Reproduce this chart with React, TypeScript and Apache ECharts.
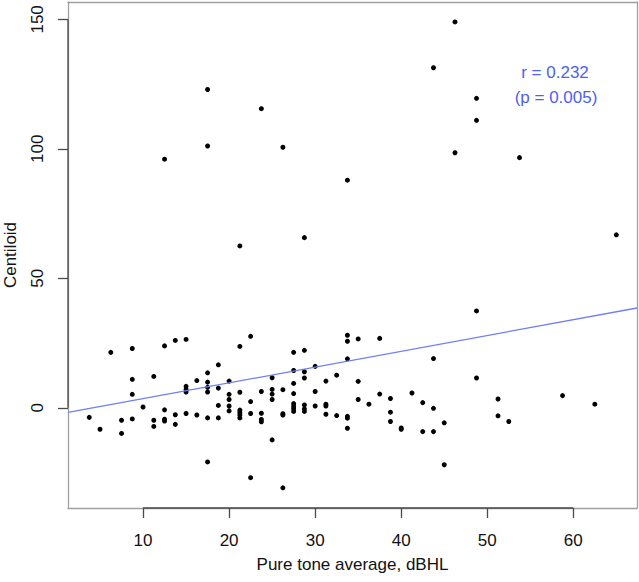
import React, { useEffect, useRef } from "react";
import * as echarts from "echarts";

// Pure tone average (dBHL) and Centiloid values
const ptaValues: number[] = [
  // upper outliers
  17.5, 23.75, 17.5, 26.25, 12.5, 33.75, 28.75, 21.25, 46.25, 43.75, 48.75, 48.75, 46.25, 53.75, 65, 48.75,
  // left cluster
  6.25, 8.75, 12.5, 13.75, 15, 21.25, 22.5, 18.75, 8.75, 11.25, 17.5, 16.25, 17.5, 20, 15, 15, 15, 17.5, 17.5,
  18.75, 21.25, 20, 8.75, 10, 18.75, 20, 20, 20, 22.5, 12.5, 13.75, 15, 16.25, 17.5, 18.75, 21.25, 21.25, 21.25,
  21.25, 22.5, 3.75, 5, 7.5, 7.5, 8.75, 11.25, 11.25, 12.5, 12.5, 13.75, 17.5, 22.5,
  // middle cluster
  27.5, 28.75, 33.75, 33.75, 35, 37.5, 43.75, 33.75, 30, 27.5, 28.75, 25, 28.75, 32.5, 31.25, 35, 27.5, 23.75,
  25, 25, 25, 26.25, 27.5, 30, 35, 37.5, 38.75, 41.25, 42.5, 43.75, 36.25, 27.5, 27.5, 27.5, 27.5, 28.75, 28.75,
  28.75, 30, 31.25, 31.25, 31.25, 32.5, 33.75, 33.75, 33.75, 23.75, 23.75, 23.75, 26.25, 26.25, 25, 26.25, 38.75,
  38.75, 40, 40, 42.5, 43.75, 45, 45,
  // right side
  48.75, 51.25, 51.25, 52.5, 58.75, 62.5,
];

const centiloidValues: number[] = [
  122.9, 115.5, 101.1, 100.6, 96.0, 87.9, 65.7, 62.5, 149.0, 131.3, 119.5, 111.0, 98.5, 96.6, 66.8, 37.4,
  21.4, 22.9, 23.9, 26.0, 26.4, 23.7, 27.6, 16.6, 11.0, 12.1, 13.5, 10.5, 9.9, 10.3, 8.3, 7.1, 6.1, 7.9, 6.1,
  7.6, 6.0, 5.2, 5.2, 0.3, 0.9, 3.2, 0.7, -1.2, 2.4, -0.8, -2.7, -2.2, -2.8, -3.9, -3.9, -0.9, -1.8, -2.8,
  -3.9, -2.2, -3.7, -8.3, -4.8, -9.9, -4.3, -4.8, -7.2, -4.4, -5.1, -6.4, -20.9, -27.0,
  21.4, 22.2, 28.0, 25.7, 26.6, 26.8, 19.0, 18.9, 16.0, 14.4, 13.9, 11.6, 11.5, 12.6, 10.3, 10.2, 9.4, 6.3,
  7.1, 5.3, 3.2, 7.0, 5.5, 6.3, 3.2, 5.3, 3.6, 5.7, 2.0, -0.2, 1.4, 1.6, 0.5, -0.4, -1.4, 1.1, -0.4,
  -1.4, 0.7, 1.4, 0.7, -2.5, -3.0, -3.3, -4.0, -7.9, -2.1, -4.5, -5.4, -2.3, -2.8, -12.4, -30.9, -1.7,
  -5.3, -7.8, -8.3, -9.2, -9.2, -5.8, -22.0,
  11.5, 3.4, -3.1, -5.3, 4.7, 1.4,
];

const xTicks: number[] = [10, 20, 30, 40, 50, 60];
const yTicks: number[] = [0, 50, 100, 150];
const xRange: number[] = [1.28, 67.4];
const yRange: number[] = [-38.7, 156.7];

const fitIntercept = -2.58;
const fitSlope = 0.61;
const annotationLines: string[] = ["r = 0.232", "(p = 0.005)"];

const FONT = "'Liberation Sans', Arial, Helvetica, sans-serif";
const BOX = "#a0a0a0";
const AXIS = "#4a4a4a";

export default function App() {
  const ref = useRef<HTMLDivElement>(null);

  useEffect(() => {
    if (!ref.current) return;
    document.body.style.margin = "0";
    const chart = echarts.init(ref.current, undefined, { renderer: "svg" });

    const points = ptaValues.map((x, i) => [x, centiloidValues[i]]);
    const fitLine = xRange.map((x) => [x, fitIntercept + fitSlope * x]);
    const xAxisSeg = [
      [xTicks[0], yRange[0]],
      [xTicks[xTicks.length - 1], yRange[0]],
    ];
    const yAxisSeg = [
      [xRange[0], yTicks[0]],
      [xRange[0], yTicks[yTicks.length - 1]],
    ];

    const boxAxis = {
      type: "value",
      splitLine: { show: false },
      axisTick: { show: false },
      axisLabel: { show: false },
      axisLine: { show: true, onZero: false, lineStyle: { color: BOX, width: 1.3 } },
    };

    chart.setOption({
      animation: false,
      backgroundColor: "#ffffff",
      grid: {
        left: 68,
        right: 2,
        top: 2,
        bottom: 74,
        containLabel: false,
        outerBoundsMode: "none",
      },
      xAxis: [
        {
          type: "value",
          position: "bottom",
          min: xRange[0],
          max: xRange[1],
          name: "Pure tone average, dBHL",
          nameLocation: "middle",
          nameGap: 48,
          nameTextStyle: { fontFamily: FONT, fontSize: 17, color: "#111" },
          splitLine: { show: false },
          axisLine: { show: true, onZero: false, lineStyle: { color: BOX, width: 1.3 } },
          axisTick: {
            show: true,
            length: 10,
            inside: false,
            customValues: xTicks,
            lineStyle: { color: AXIS, width: 1.3 },
          },
          axisLabel: {
            customValues: xTicks,
            fontFamily: FONT,
            fontSize: 17,
            color: "#111",
            margin: 24,
          },
        },
        { ...boxAxis, position: "top", min: xRange[0], max: xRange[1] },
      ],
      yAxis: [
        {
          type: "value",
          position: "left",
          min: yRange[0],
          max: yRange[1],
          name: "Centiloid",
          nameLocation: "middle",
          nameGap: 49,
          nameTextStyle: { fontFamily: FONT, fontSize: 17, color: "#111" },
          splitLine: { show: false },
          axisLine: { show: true, onZero: false, lineStyle: { color: BOX, width: 1.3 } },
          axisTick: {
            show: true,
            length: 10,
            customValues: yTicks,
            lineStyle: { color: AXIS, width: 1.3 },
          },
          axisLabel: {
            customValues: yTicks,
            rotate: 90,
            fontFamily: FONT,
            fontSize: 17,
            color: "#111",
            margin: 22,
          },
        },
        { ...boxAxis, position: "right", min: yRange[0], max: yRange[1] },
      ],
      graphic: [
        {
          type: "text",
          x: 555,
          y: 72,
          style: {
            text: annotationLines[0],
            fill: "#4d5ff2",
            font: `17px ${FONT}`,
            textAlign: "center",
            textVerticalAlign: "middle",
          },
        },
        {
          type: "text",
          x: 556,
          y: 97,
          style: {
            text: annotationLines[1],
            fill: "#4d5ff2",
            font: `17px ${FONT}`,
            textAlign: "center",
            textVerticalAlign: "middle",
          },
        },
      ],
      series: [
        {
          type: "line",
          data: xAxisSeg,
          symbol: "none",
          silent: true,
          clip: false,
          z: 5,
          lineStyle: { color: AXIS, width: 1.3 },
        },
        {
          type: "line",
          data: yAxisSeg,
          symbol: "none",
          silent: true,
          clip: false,
          z: 5,
          lineStyle: { color: AXIS, width: 1.3 },
        },
        {
          type: "line",
          data: fitLine,
          symbol: "none",
          silent: true,
          lineStyle: { color: "#6f7ff5", width: 1.3 },
        },
        {
          type: "scatter",
          data: points,
          symbol: "circle",
          symbolSize: 5,
          itemStyle: { color: "#000", opacity: 1 },
          silent: true,
        },
      ],
    });

    return () => chart.dispose();
  }, []);

  return (
    <div
      ref={ref}
      style={{ position: "absolute", left: 0, top: 0, width: 639, height: 582 }}
    />
  );
}
